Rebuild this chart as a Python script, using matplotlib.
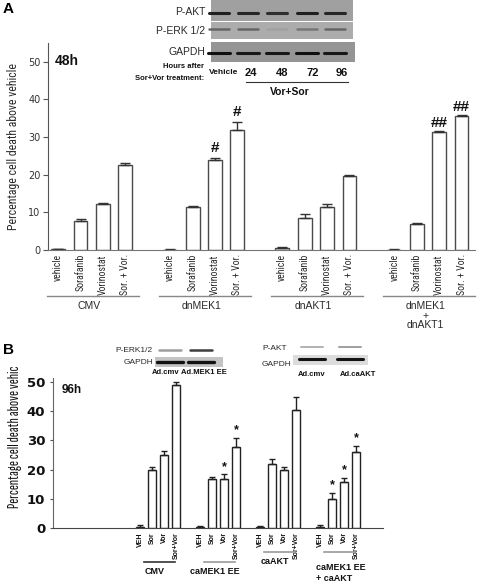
import numpy as np
import matplotlib
matplotlib.use('Agg')
import matplotlib.pyplot as plt
from matplotlib import transforms
from matplotlib.patches import Rectangle

# ---- Panel A (48h) ----
a_groups = ['CMV', 'dnMEK1', 'dnAKT1', 'dnMEK1\n+\ndnAKT1']
a_treatments = ['vehicle', 'Sorafanib', 'Vorinostat', 'Sor. + Vor.']
a_values = [[0.2, 7.8, 12.1, 22.6],
            [0.1, 11.3, 24.0, 31.8],
            [0.4, 8.4, 11.4, 19.7],
            [0.1, 6.9, 31.3, 35.5]]
a_errors = [[0.1, 0.5, 0.5, 0.5],
            [0.1, 0.5, 0.4, 2.1],
            [0.3, 1.1, 0.8, 0.3],
            [0.1, 0.2, 0.4, 0.3]]
a_marks = [['', '', '', ''], ['', '', '#', '#'],
           ['', '', '', ''], ['', '', '##', '##']]
a_yticks = [0, 10, 20, 30, 40, 50]

# ---- Panel B (96h) ----
b_groups = ['CMV', 'caMEK1 EE', 'caAKT', 'caMEK1 EE\n+ caAKT']
b_treatments = ['VEH', 'Sor', 'Vor', 'Sor+Vor']
b_values = [[0.3, 19.9, 24.9, 48.9],
            [0.2, 16.8, 16.9, 27.9],
            [0.3, 21.8, 19.9, 40.6],
            [0.3, 9.9, 15.9, 25.9]]
b_errors = [[0.7, 0.9, 1.4, 1.3],
            [0.5, 0.8, 1.6, 3.0],
            [0.5, 1.7, 1.1, 4.2],
            [0.7, 2.2, 1.3, 2.3]]
b_marks = [['', '', '', ''], ['', '', '*', '*'],
           ['', '', '', ''], ['', '*', '*', '*']]
b_yticks = [0, 10, 20, 30, 40, 50]

# ---- western blot insets (band darkness 0..1) ----
blot_lanes = ['Vehicle', '24', '48', '72', '96']
blot_akt = [0.85, 0.8, 0.75, 0.85, 0.8]
blot_erk = [0.45, 0.45, 0.1, 0.35, 0.45]
blot_gapdh = [0.95, 0.9, 0.9, 0.95, 0.9]
blot_b_erk = [0.25, 0.75]
blot_b_gapdh = [0.95, 0.95]
blot_b_akt = [0.15, 0.25]
blot_b_akt_gapdh = [0.95, 0.95]

COND = ['Roboto Condensed', 'DejaVu Sans']
XCOND = ['Sofia Sans Extra Condensed', 'Roboto Condensed', 'DejaVu Sans']
ARIAL = ['Liberation Sans', 'DejaVu Sans']
TXT = '#2a2a2a'
EDGE = '#4a4a4a'

fig = plt.figure(figsize=(4.8, 5.82), dpi=100)


def positions(n_groups, n_treat):
    return [[g * (n_treat + 1) + t for t in range(n_treat)] for g in range(n_groups)]


# ---------------- Panel A ----------------
axA = fig.add_axes([48 / 480, (582 - 250) / 582, (475 - 48) / 480, (250 - 43) / 582])
axA.patch.set_alpha(0)
posA = positions(len(a_groups), len(a_treatments))
for g in range(len(a_groups)):
    axA.bar(posA[g], a_values[g], width=0.62, color='white', edgecolor=EDGE, linewidth=1.0,
            yerr=[np.zeros(4), a_errors[g]], capsize=3.5,
            error_kw=dict(elinewidth=1.0, capthick=1.0, ecolor='#333333'))
    for t in range(len(a_treatments)):
        if a_marks[g][t]:
            off = 0.9 if a_marks[g][t] == '#' else 0.3
            axA.text(posA[g][t], a_values[g][t] + a_errors[g][t] + off, a_marks[g][t],
                     ha='center', va='bottom', fontsize=11, fontweight='bold',
                     family=ARIAL, color='#111111')
axA.set_xlim(-0.45, 18.6)
axA.set_ylim(0, 55)
axA.set_yticks(a_yticks)
axA.set_yticklabels([str(v) for v in a_yticks], fontsize=7, color='#333333', family=['DejaVu Sans'])
axA.set_xticks([p for grp in posA for p in grp])
axA.set_xticklabels(a_treatments * len(a_groups), rotation=90, va='top', ha='center',
                    fontsize=7, family=COND, color=TXT)
axA.tick_params(axis='x', length=0, pad=3)
axA.tick_params(axis='y', length=3.5, width=0.8, color='#555555', pad=2)
for s in ['top', 'right']:
    axA.spines[s].set_visible(False)
axA.spines['left'].set_color('#555555')
axA.spines['bottom'].set_color('#777777')
axA.spines['bottom'].set_linewidth(0.8)
axA.set_ylabel('Percentage cell death above vehicle', fontsize=8.5, family=COND,
               color=TXT, labelpad=6)
axA.text(0.015, 0.915, '48h', transform=axA.transAxes, fontsize=10, fontweight='bold',
         family=ARIAL, color='#111111', va='center')

# ---------------- Panel B ----------------
axB = fig.add_axes([53 / 480, (582 - 528) / 582, (383 - 53) / 480, (528 - 378) / 582])
axB.patch.set_alpha(0)
posB = positions(len(b_groups), len(b_treatments))
for g in range(len(b_groups)):
    axB.bar(posB[g], b_values[g], width=0.65, color='white', edgecolor='#222222', linewidth=1.0,
            yerr=[np.zeros(4), b_errors[g]], capsize=2.5,
            error_kw=dict(elinewidth=1.0, capthick=1.0, ecolor='#222222'))
    for t in range(len(b_treatments)):
        if b_marks[g][t]:
            axB.text(posB[g][t], b_values[g][t] + b_errors[g][t] + 0.4, b_marks[g][t],
                     ha='center', va='bottom', fontsize=9, fontweight='bold',
                     family=ARIAL, color='#111111')
axB.set_xlim(-7.25, 20.25)
axB.set_ylim(0, 51.4)
axB.set_yticks(b_yticks)
axB.set_yticklabels([str(v) for v in b_yticks], fontsize=9.5, fontweight='bold',
                    family=['DejaVu Sans'], color='#111111')
axB.set_xticks([p for grp in posB for p in grp])
axB.set_xticklabels(b_treatments * len(b_groups), rotation=90, va='top', ha='center',
                    fontsize=5, fontweight='bold', family=ARIAL, color='#111111')
axB.tick_params(axis='x', length=0, pad=3)
axB.tick_params(axis='y', length=2.5, width=0.8, color='#555555', pad=3)
for s in ['top', 'right']:
    axB.spines[s].set_visible(False)
axB.spines['left'].set_color('#666666')
axB.spines['bottom'].set_color('#444444')
axB.set_ylabel('Percentage cell death above vehic', fontsize=11, family=XCOND,
               color='#111111')
axB.yaxis.set_label_coords(-0.094, 0.607)
axB.text(0.025, 0.92, '96h', transform=axB.transAxes, fontsize=8.5, fontweight='bold',
         family=ARIAL, color='#111111', va='center')

# ---------------- overlay in pixel coordinates ----------------
ov = fig.add_axes([0, 0, 1, 1])
ov.set_xlim(0, 480)
ov.set_ylim(582, 0)
ov.axis('off')
ov.patch.set_alpha(0)

ov.text(3, 9, 'A', fontsize=11, fontweight='bold', family=ARIAL, va='center')
ov.text(3, 350, 'B', fontsize=11, fontweight='bold', family=ARIAL, va='center')

# group labels for A
trA = transforms.blended_transform_factory(axA.transData, ov.transData)
for g, name in enumerate(a_groups):
    c = np.mean(posA[g])
    ov.plot([c - 2.0, c + 2.1], [296, 296], color='#888888', lw=1.0, transform=trA,
            clip_on=False)
    ov.text(c - 0.1, 301, name, transform=trA, ha='center', va='top', fontsize=7.5,
            family=ARIAL, color=TXT, linespacing=0.95)

# group labels for B
trB = transforms.blended_transform_factory(axB.transData, ov.transData)
b_line_y = [562, 562, 552, 552]
b_text_y = [571, 571, 561, 573]
b_line_c = ['#333333', '#999999', '#999999', '#999999']
for g, name in enumerate(b_groups):
    p0, p3 = posB[g][0], posB[g][3]
    ov.plot([p0 + 0.3, p3 - 0.1], [b_line_y[g]] * 2, color=b_line_c[g], lw=1.2,
            transform=trB, clip_on=False)
    if g == 3:
        ov.text(p0 - 0.3, b_text_y[g], name, transform=trB, ha='left', va='center',
                fontsize=6.5, fontweight='bold', family=ARIAL, color='#111111',
                linespacing=1.25)
    else:
        ov.text(np.mean(posB[g]) - 0.3, b_text_y[g], name, transform=trB, ha='center',
                va='center', fontsize=6.5, fontweight='bold', family=ARIAL, color='#111111')


def blot_box(x0, x1, y0, y1, bg):
    ov.add_patch(Rectangle((x0, y0), x1 - x0, y1 - y0, facecolor=bg, edgecolor='none'))


def bands(centers, y, darkness, half, lw, bg=0.62):
    for c, d in zip(centers, darkness):
        level = bg * (1 - d)
        ov.plot([c - half, c + half], [y, y], color=str(level), lw=lw, solid_capstyle='round',
                alpha=0.95)


# blot A
lane_x = [219, 248, 277, 307, 335]
blot_box(211, 353, 0, 21, '#a0a0a0')
blot_box(211, 353, 22, 39, '#acacac')
blot_box(211, 355, 42, 62, '#959595')
bands(lane_x, 12.5, blot_akt, 10, 2.2)
bands(lane_x, 29, blot_erk, 10, 1.8, bg=0.7)
bands(lane_x, 52.5, blot_gapdh, 11, 2.2)
for lbl, yy in zip(['P-AKT', 'P-ERK 1/2', 'GAPDH'], [12, 31, 52]):
    ov.text(205, yy, lbl, ha='right', va='center', fontsize=7.5, family=ARIAL, color=TXT)
ov.text(204, 67, 'Hours after', ha='right', va='center', fontsize=5.5, fontweight='bold',
        family=ARIAL, color='#111111')
ov.text(204, 78, 'Sor+Vor treatment:', ha='right', va='center', fontsize=5.5,
        fontweight='bold', family=ARIAL, color='#111111')
hour_x = [224, 251, 282, 313, 342]
for lbl, xx in zip(blot_lanes, hour_x):
    ov.text(xx, 73, lbl, ha='center', va='center', fontsize=6 if lbl == 'Vehicle' else 8,
            fontweight='bold', family=ARIAL, color='#111111')
ov.plot([246, 348], [82, 82], color='#333333', lw=0.8)
ov.text(290, 92, 'Vor+Sor', ha='center', va='center', fontsize=7.5, fontweight='bold',
        family=ARIAL, color='#111111')

# blots B (left: ERK)
blot_box(155, 223, 357, 367, '#c4c4c4')
bands([170, 201], 350, blot_b_erk, 11, 1.8, bg=0.8)
bands([170, 201], 362, blot_b_gapdh, 13, 2.4)
ov.text(153, 350, 'P-ERK1/2', ha='right', va='center', fontsize=6, family=ARIAL, color=TXT)
ov.text(153, 362, 'GAPDH', ha='right', va='center', fontsize=6, family=ARIAL, color=TXT)
ov.text(166, 373, 'Ad.cmv', ha='center', va='center', fontsize=5.5, fontweight='bold',
        family=ARIAL, color='#111111')
ov.text(204, 373, 'Ad.MEK1 EE', ha='center', va='center', fontsize=5.5, fontweight='bold',
        family=ARIAL, color='#111111')

# blots B (right: AKT)
blot_box(293, 368, 355, 365, '#dcdcdc')
bands([312, 350], 347, blot_b_akt, 11, 1.4, bg=0.8)
bands([312, 350], 359, blot_b_akt_gapdh, 13, 2.2)
ov.text(262, 349, 'P-AKT', ha='left', va='center', fontsize=6, family=ARIAL, color=TXT)
ov.text(262, 364, 'GAPDH', ha='left', va='center', fontsize=6, family=ARIAL, color=TXT)
ov.text(312, 374, 'Ad.cmv', ha='center', va='center', fontsize=5.5, fontweight='bold',
        family=ARIAL, color='#111111')
ov.text(358, 374, 'Ad.caAKT', ha='center', va='center', fontsize=5.5, fontweight='bold',
        family=ARIAL, color='#111111')

fig.savefig('out.png', dpi=100)
